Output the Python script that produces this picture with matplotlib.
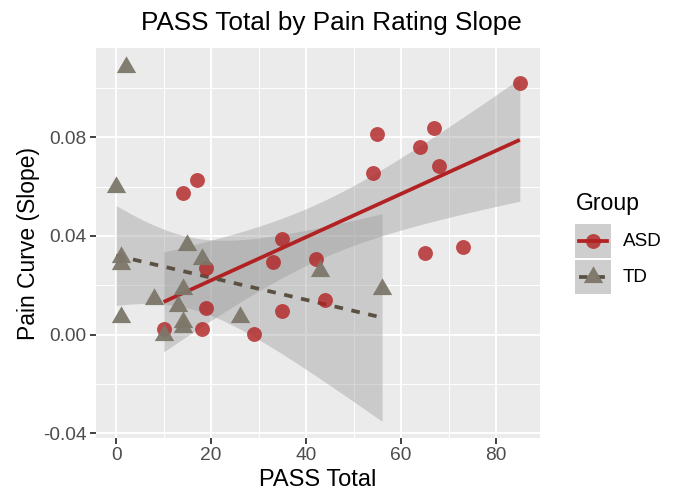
import numpy as np
import matplotlib
matplotlib.use("Agg")
from matplotlib import pyplot as plt
from matplotlib.patches import Rectangle

plt.rcParams['font.family'] = ['Liberation Sans', 'DejaVu Sans']

# ASD group (red circles)
asd_pass = [85, 55, 67, 64, 68, 54, 14, 17, 73, 65, 35, 33, 42, 19, 19, 44, 35, 10, 18, 29]
asd_slope = [0.1022, 0.0812, 0.0836, 0.0762, 0.0683, 0.0657, 0.0573, 0.0626, 0.0354, 0.0330,
             0.0389, 0.0295, 0.0307, 0.0272, 0.0108, 0.0141, 0.0096, 0.0023, 0.0023, 0.0004]

# TD group (grey triangles)
td_pass = [2, 0, 1, 1, 1, 8, 10, 13, 14, 14, 14, 15, 18, 26, 43, 56]
td_slope = [0.1087, 0.0600, 0.0313, 0.0286, 0.0071, 0.0145, -0.0002, 0.0118, 0.0185, 0.0051,
            0.0030, 0.0362, 0.0307, 0.0073, 0.0260, 0.0185]

group_names = ['ASD', 'TD']
x_ticks = [0, 20, 40, 60, 80]
y_ticks = [-0.04, 0.00, 0.04, 0.08]
y_tick_labels = ['-0.04', '0.00', '0.04', '0.08']

ASD_COL = '#B22222'
TD_PT = '#7D776A'
TD_LINE = '#5A5142'
BAND = '#999999'

# t quantiles (0.975) for n-2 degrees of freedom, no scipy here
T975 = {18: 2.1009, 14: 2.1448}

# triangle centred on its centroid, like R's pch 17
tri = [(0, 1.1547), (-1, -0.5774), (1, -0.5774), (0, 1.1547)]


def lm_band(x, y, n=80):
    """Linear fit with 95% confidence band over the range of x."""
    x = np.asarray(x, float)
    y = np.asarray(y, float)
    b1, b0 = np.polyfit(x, y, 1)
    res = y - (b0 + b1 * x)
    df = len(x) - 2
    s = np.sqrt(np.sum(res ** 2) / df)
    sxx = np.sum((x - x.mean()) ** 2)
    xs = np.linspace(x.min(), x.max(), n)
    fit = b0 + b1 * xs
    se = s * np.sqrt(1 / len(x) + (xs - x.mean()) ** 2 / sxx)
    return xs, fit, fit - T975[df] * se, fit + T975[df] * se


W, H = 674, 491
fig = plt.figure(figsize=(W / 100, H / 100), dpi=100)
ax = fig.add_axes([96 / W, 1 - 438 / H, 444 / W, 390 / H])
ax.set_facecolor('#EBEBEB')
for sp in ax.spines.values():
    sp.set_visible(False)

ax.set_xlim(-4.25, 89.25)
ax.set_ylim(-0.0419, 0.1162)
ax.set_xticks(x_ticks)
ax.set_xticks([10, 30, 50, 70], minor=True)
ax.set_yticks(y_ticks)
ax.set_yticklabels(y_tick_labels)
ax.set_yticks([-0.02, 0.02, 0.06, 0.10], minor=True)
ax.grid(which='major', color='white', lw=1.3)
ax.grid(which='minor', color='white', lw=0.7)
ax.set_axisbelow(True)
ax.tick_params(which='major', length=4.3, width=1.3, color='#333333',
               labelsize=13.8, labelcolor='#4D4D4D', pad=2.5)
ax.tick_params(which='minor', length=0)

# bands first, then lines, then points (same order as ggplot layers)
xa, fa, la, ua = lm_band(asd_pass, asd_slope)
xt, ft, lt, ut = lm_band(td_pass, td_slope)
ax.fill_between(xa, la, ua, color=BAND, alpha=0.4, lw=0, zorder=2)
ax.fill_between(xt, lt, ut, color=BAND, alpha=0.4, lw=0, zorder=2)
ax.plot(xa, fa, color=ASD_COL, lw=2.7, zorder=3, solid_capstyle='butt')
ax.plot(xt, ft, color=TD_LINE, lw=2.7, ls=(0, (2.3, 2.3)), zorder=3)
ax.scatter(asd_pass, asd_slope, s=115, color=ASD_COL, alpha=0.8, lw=0, zorder=4)
ax.scatter(td_pass, td_slope, s=260, marker=tri, color=TD_PT, alpha=0.95, lw=0, zorder=4)

fig.text(331 / W, 1 - 23 / H, 'PASS Total by Pain Rating Slope', ha='center', va='center',
         fontsize=18.8, color='black')
fig.text(318 / W, 1 - 480 / H, 'PASS Total', ha='center', va='center', fontsize=17, color='black')
fig.text(29 / W, 1 - 243 / H, 'Pain Curve (Slope)', ha='center', va='center', rotation=90,
         fontsize=16.5, color='black')

# legend drawn by hand to get ggplot key boxes
lg = fig.add_axes([575 / W, 1 - 295 / H, 36 / W, 72 / H])
lg.set_xlim(0, 1)
lg.set_ylim(0, 2)
lg.axis('off')
fig.text(576 / W, 1 - 204 / H, 'Group', ha='left', va='center', fontsize=16.6)
keys = [(1, ASD_COL, ASD_COL, 'o', '-'), (0, TD_PT, TD_LINE, tri, (0, (2.3, 2.3)))]
for (row, pc, lc, mk, ls), name in zip(keys, group_names):
    lg.add_patch(Rectangle((0, row + 0.02), 1, 0.96, color='#F2F2F2', lw=0))
    lg.add_patch(Rectangle((0, row + 0.02), 1, 0.96, color=BAND, alpha=0.4, lw=0))
    lg.plot([0.1, 0.9], [row + 0.5, row + 0.5], color=lc, lw=2.7, ls=ls)
    if mk == 'o':
        lg.scatter([0.5], [row + 0.5], s=115, color=pc, alpha=0.8, lw=0, zorder=3)
    else:
        lg.scatter([0.5], [row + 0.5], s=260, marker=mk, color=pc, alpha=0.95, lw=0, zorder=3)
    fig.text(623 / W, 1 - (295 - 36 * row - 18) / H, name, ha='left', va='center', fontsize=13.6)

fig.savefig('out.png', dpi=100)
